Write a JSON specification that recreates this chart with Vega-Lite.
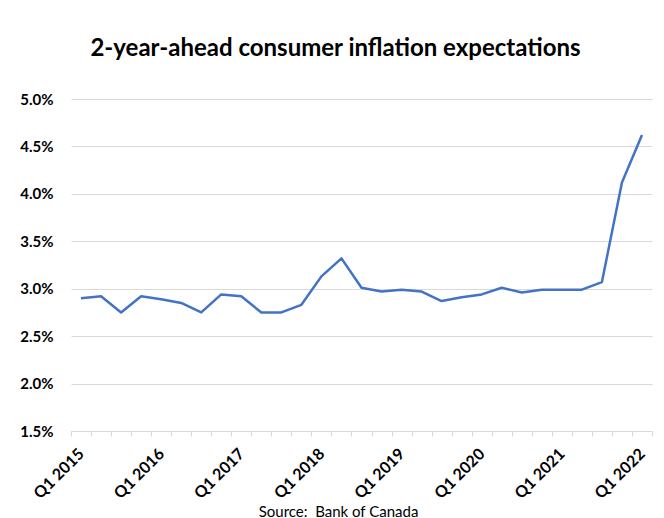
{
  "$schema": "https://vega.github.io/schema/vega-lite/v6.json",
  "autosize": {"type": "none"},
  "width": 581,
  "height": 332,
  "padding": {"left": 71, "top": 99, "right": 12, "bottom": 87},
  "background": "white",
  "title": {
    "text": "2-year-ahead consumer inflation expectations",
    "font": "Lato",
    "fontSize": 24,
    "fontWeight": "bold",
    "color": "#000000",
    "anchor": "middle",
    "dx": -26,
    "offset": 31
  },
  "data": {
    "values": [
      {"q": "Q1 2015", "v": 2.90},
      {"q": "Q2 2015", "v": 2.92},
      {"q": "Q3 2015", "v": 2.75},
      {"q": "Q4 2015", "v": 2.92},
      {"q": "Q1 2016", "v": 2.89},
      {"q": "Q2 2016", "v": 2.85},
      {"q": "Q3 2016", "v": 2.75},
      {"q": "Q4 2016", "v": 2.94},
      {"q": "Q1 2017", "v": 2.92},
      {"q": "Q2 2017", "v": 2.75},
      {"q": "Q3 2017", "v": 2.75},
      {"q": "Q4 2017", "v": 2.83},
      {"q": "Q1 2018", "v": 3.13},
      {"q": "Q2 2018", "v": 3.32},
      {"q": "Q3 2018", "v": 3.01},
      {"q": "Q4 2018", "v": 2.97},
      {"q": "Q1 2019", "v": 2.99},
      {"q": "Q2 2019", "v": 2.97},
      {"q": "Q3 2019", "v": 2.87},
      {"q": "Q4 2019", "v": 2.91},
      {"q": "Q1 2020", "v": 2.94},
      {"q": "Q2 2020", "v": 3.01},
      {"q": "Q3 2020", "v": 2.96},
      {"q": "Q4 2020", "v": 2.99},
      {"q": "Q1 2021", "v": 2.99},
      {"q": "Q2 2021", "v": 2.99},
      {"q": "Q3 2021", "v": 3.07},
      {"q": "Q4 2021", "v": 4.12},
      {"q": "Q1 2022", "v": 4.62}
    ]
  },
  "mark": {"type": "line", "color": "#4472C4", "strokeWidth": 2.5, "strokeJoin": "round"},
  "encoding": {
    "x": {
      "field": "q",
      "type": "ordinal",
      "sort": null,
      "bandPosition": 0.5,
      "scale": {"type": "band", "paddingInner": 0, "paddingOuter": 0},
      "axis": {
        "title": "Source:\u00a0 Bank of Canada",
        "titleFont": "Lato",
        "titleFontSize": 15,
        "titleFontWeight": "normal",
        "titleColor": "#000000",
        "titleX": 267,
        "titleY": 85,
        "titleAnchor": "middle",
        "titleAlign": "center",
        "titleBaseline": "alphabetic",
        "tickBand": "extent",
        "domainColor": "#d9d9d9",
        "tickColor": "#d9d9d9",
        "tickSize": 5,
        "grid": false,
        "labelAngle": -45,
        "labelAlign": "right",
        "labelBaseline": "middle",
        "labelPadding": 15,
        "labelFont": "Lato",
        "labelFontSize": 16,
        "labelFontWeight": "bold",
        "labelColor": "#000000",
        "labelOverlap": false,
        "labelBound": false,
        "labelExpr": "substring(datum.value, 0, 2) === 'Q1' ? datum.value : ''"
      }
    },
    "y": {
      "field": "v",
      "type": "quantitative",
      "scale": {"domain": [1.5, 5.0], "nice": false, "zero": false},
      "axis": {
        "title": null,
        "values": [1.5, 2.0, 2.5, 3.0, 3.5, 4.0, 4.5, 5.0],
        "labelExpr": "format(datum.value, '.1f') + '%'",
        "domain": false,
        "ticks": false,
        "labelPadding": 18,
        "labelFont": "Lato",
        "labelFontSize": 15,
        "labelFontWeight": "bold",
        "labelColor": "#000000",
        "gridColor": "#d9d9d9",
        "gridWidth": 1
      }
    }
  },
  "config": {
    "view": {"stroke": null}
  }
}
